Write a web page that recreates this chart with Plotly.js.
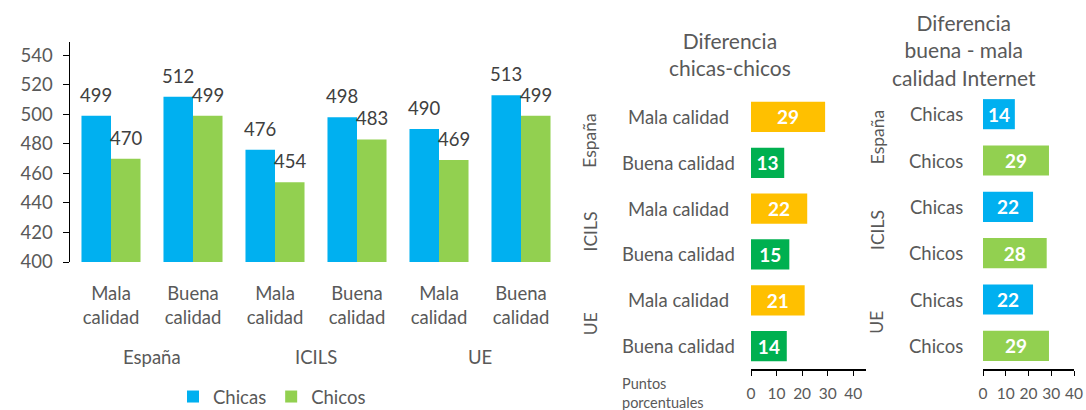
<!DOCTYPE html>
<html><head><meta charset="utf-8">
<script src="https://cdn.plot.ly/plotly-3.0.1.min.js"></script>
<style>body{margin:0;background:#fff}#c{width:1086px;height:410px}</style>
</head><body><div id="c"></div>
<script>
// ---- data ----
const groups = ['España', 'ICILS', 'UE'];
const qualityTicks = ['Mala<br>calidad', 'Buena<br>calidad', 'Mala<br>calidad', 'Buena<br>calidad', 'Mala<br>calidad', 'Buena<br>calidad'];
const chicas = [499, 512, 476, 498, 490, 513];
const chicos = [470, 499, 454, 483, 469, 499];
const gapLabels = ['Mala calidad', 'Buena calidad', 'Mala calidad', 'Buena calidad', 'Mala calidad', 'Buena calidad'];
const gapValues = [29, 13, 22, 15, 21, 14];
const qualLabels = ['Chicas', 'Chicos', 'Chicas', 'Chicos', 'Chicas', 'Chicos'];
const qualValues = [14, 29, 22, 28, 22, 29];
const leftTicks = [400, 420, 440, 460, 480, 500, 520, 540];
const diffTicks = [0, 10, 20, 30, 40];

// ---- style ----
const W = 1086, H = 410;
const px = x => x / W, py = y => 1 - y / H;
const FONT = 'Lato, "Noto Sans", sans-serif';
const GRAY = '#595959';
const BLUE = '#00B0F0', LGREEN = '#92D050', ORANGE = '#FFC000', DGREEN = '#00B050';
const idx = qualityTicks.map((_, i) => i);
const BW = 0.36;

const traces = [
  {type: 'bar', name: 'Chicas', x: idx, y: chicas, marker: {color: BLUE}, offset: -BW, width: BW, xaxis: 'x', yaxis: 'y', hoverinfo: 'skip'},
  {type: 'bar', name: 'Chicos', x: idx, y: chicos, marker: {color: LGREEN}, offset: 0, width: BW, xaxis: 'x', yaxis: 'y', hoverinfo: 'skip'},
  {type: 'bar', orientation: 'h', x: gapValues, y: gapValues.map((_, i) => i), width: 0.66,
   marker: {color: gapValues.map((_, i) => i % 2 === 0 ? ORANGE : DGREEN)},
   text: gapValues.map(String), textposition: 'inside', insidetextanchor: 'middle', constraintext: 'none',
   textfont: {family: FONT, size: 19, color: '#fff', weight: 'bold'},
   xaxis: 'x2', yaxis: 'y2', showlegend: false, hoverinfo: 'skip'},
  {type: 'bar', orientation: 'h', x: qualValues, y: qualValues.map((_, i) => i), width: 0.65,
   marker: {color: qualValues.map((_, i) => i % 2 === 0 ? BLUE : LGREEN)},
   text: qualValues.map(String), textposition: 'inside', insidetextanchor: 'middle', constraintext: 'none',
   textfont: {family: FONT, size: 19, color: '#fff', weight: 'bold'},
   xaxis: 'x3', yaxis: 'y3', showlegend: false, hoverinfo: 'skip'}
];

const ann = [];
const A = (o) => ann.push(Object.assign({showarrow: false, xanchor: 'center', yanchor: 'middle'}, o));
// value labels above grouped bars
chicas.forEach((v, i) => A({x: i - BW / 2, y: v, xref: 'x', yref: 'y', text: String(v), yanchor: 'bottom', yshift: 8, font: {family: FONT, size: 18.5, color: '#404040'}}));
chicos.forEach((v, i) => A({x: i + BW / 2, y: v, xref: 'x', yref: 'y', text: String(v), yanchor: 'bottom', yshift: 8, font: {family: FONT, size: 18.5, color: '#404040'}}));
// group labels under left chart
groups.forEach((g, k) => A({x: 2 * k + 0.5, y: py(357), xref: 'x', yref: 'paper', text: g, font: {family: FONT, size: 18.5, color: GRAY}}));
// middle / right category labels
gapLabels.forEach((t, i) => A({x: px(678), y: i, xref: 'paper', yref: 'y2', text: t, font: {family: FONT, size: 18.5, color: GRAY}}));
qualLabels.forEach((t, i) => A({x: px(936), y: i, xref: 'paper', yref: 'y3', text: t, font: {family: FONT, size: 18.5, color: GRAY}}));
// rotated group labels
groups.forEach((g, k) => {
  A({x: px(590), y: 2 * k + 0.5, xref: 'paper', yref: 'y2', text: g, textangle: -90, font: {family: FONT, size: 17.5, color: GRAY}});
  A({x: px(877), y: 2 * k + 0.5, xref: 'paper', yref: 'y3', text: g, textangle: -90, font: {family: FONT, size: 17.5, color: GRAY}});
});
// titles
A({x: px(730), y: py(54), xref: 'paper', yref: 'paper', text: 'Diferencia<br>chicas-chicos', font: {family: FONT, size: 21, color: GRAY}});
A({x: px(964), y: py(50), xref: 'paper', yref: 'paper', text: 'Diferencia<br>buena - mala<br>calidad Internet', font: {family: FONT, size: 21, color: GRAY}});
// axis title
A({x: px(620), y: py(393), xref: 'paper', yref: 'paper', xanchor: 'left', align: 'left', text: 'Puntos<br>porcentuales', font: {family: FONT, size: 14.5, color: GRAY}});

const layout = {
  width: W, height: H, margin: {l: 0, r: 0, t: 0, b: 0, pad: 0, autoexpand: false},
  paper_bgcolor: '#fff', plot_bgcolor: 'rgba(0,0,0,0)',
  font: {family: FONT, color: GRAY},
  barmode: 'overlay',
  showlegend: true,
  legend: {orientation: 'h', x: px(272), xanchor: 'center', y: py(397), yanchor: 'middle', font: {family: FONT, size: 18.5, color: GRAY}, itemclick: false},
  xaxis: {domain: [px(70), px(562)], range: [-0.5, 5.5], tickvals: idx, ticktext: qualityTicks, ticks: '', showline: false, showgrid: false, zeroline: false, tickfont: {family: FONT, size: 18.5, color: GRAY}, ticklabelstandoff: 18, fixedrange: true, automargin: false},
  yaxis: {domain: [py(262), py(42)], range: [400, 549], tickvals: leftTicks, showline: true, linecolor: '#000', linewidth: 1.5, ticks: 'outside', ticklen: 6, tickcolor: '#000', showgrid: false, zeroline: false, tickfont: {family: FONT, size: 18.5, color: GRAY}, ticklabelstandoff: 6, fixedrange: true, automargin: false},
  xaxis2: {domain: [px(751), px(866)], range: [0, 45], tickvals: diffTicks, showline: true, linecolor: '#000', linewidth: 1.5, ticks: 'outside', ticklen: 5, tickcolor: '#000', showgrid: false, zeroline: false, tickfont: {family: FONT, size: 15.5, color: GRAY}, ticklabelstandoff: 5, anchor: 'y2', automargin: false},
  yaxis2: {domain: [py(369), py(94)], range: [5.5, -0.5], showticklabels: false, ticks: '', showline: false, showgrid: false, zeroline: false, anchor: 'x2'},
  xaxis3: {domain: [px(983), px(1074)], range: [0, 40], tickvals: diffTicks, showline: true, linecolor: '#000', linewidth: 1.5, ticks: 'outside', ticklen: 5, tickcolor: '#000', showgrid: false, zeroline: false, tickfont: {family: FONT, size: 15.5, color: GRAY}, ticklabelstandoff: 5, anchor: 'y3', automargin: false},
  yaxis3: {domain: [py(369), py(91)], range: [5.5, -0.5], showticklabels: false, ticks: '', showline: false, showgrid: false, zeroline: false, anchor: 'x3'},
  annotations: ann
};

Plotly.newPlot('c', traces, layout, {staticPlot: true, displayModeBar: false});
</script>
</body></html>
